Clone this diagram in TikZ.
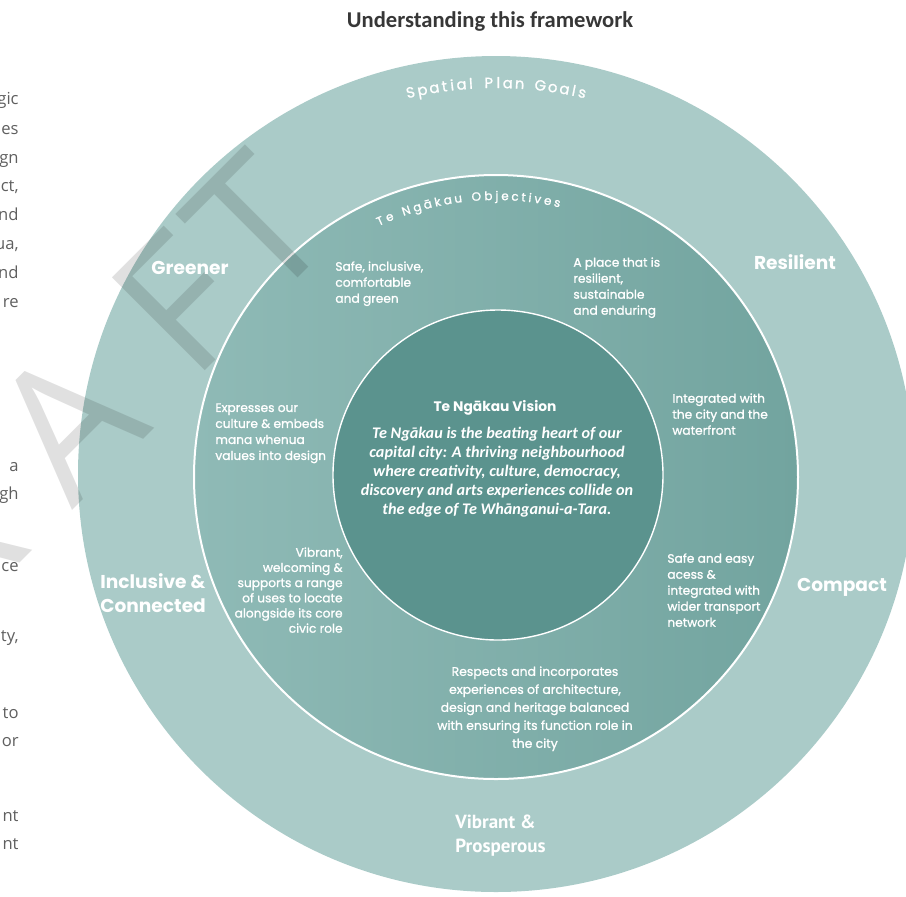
\documentclass[tikz,border=0pt]{standalone}
\usepackage{fontspec}
\setmainfont{Carlito}
\newfontfamily\goth{Poppins}
\newfontfamily\gothfb[FakeBold=1.2]{Poppins}
\newfontfamily\ptsans{PT Sans}
\newfontfamily\osans{Open Sans}
\definecolor{outerc}{RGB}{170,203,200}
\definecolor{midL}{RGB}{143,186,182}
\definecolor{midR}{RGB}{114,164,159}
\definecolor{innerc}{RGB}{91,147,142}
\definecolor{titlec}{RGB}{55,55,55}
\definecolor{fragc}{RGB}{95,95,95}
\tikzset{
  frag/.style={anchor=mid east, inner sep=0, text=fragc, font=\osans\fontsize{8.3}{10}\selectfont},
  goal/.style={text=white, inner sep=0, font=\goth\bfseries\fontsize{9.3}{12}\selectfont},
  goalb/.style={text=white, inner sep=0, align=left, font=\ptsans\bfseries\fontsize{9.5}{12}\selectfont},
  obj/.style={text=white, inner sep=0, align=left, font=\gothfb\fontsize{6.1}{8}\selectfont},
  arcl/.style={text=white, inner sep=0, anchor=base, font=\gothfb\fontsize{7.4}{8}\selectfont},
  arcs/.style={text=white, inner sep=0, anchor=base, font=\gothfb\fontsize{6}{7}\selectfont},
  wm/.style={text=black, text opacity=0.12, inner sep=0, anchor=base, rotate=45, font=\osans\fontsize{92}{92}\selectfont}
}
\begin{document}
\begin{tikzpicture}[x=0.5pt,y=-0.5pt]
\useasboundingbox (0,0) rectangle (906,896);
\coordinate (O) at (496,474);
\coordinate (M) at (496,477);
\coordinate (I) at (498,475);
% rings
\fill[outerc] (O) circle (418);
\shade[left color=midL,right color=midR] (M) circle (302);
\draw[white,line width=1pt] (M) circle (302);
\fill[innerc] (I) circle (165);
\draw[white,line width=0.7pt] (I) circle (165);
% watermark
\node[wm] (wmR) at (-5,588) {R};
\node[wm] (wmA) at (113.5,469) {A};
\node[wm] (wmF) at (226,350) {F};
\node[wm] (wmT) at (303,273) {T};
% title
\node[text=titlec, inner sep=0, font=\bfseries\fontsize{11.3}{13}\selectfont] (title) at (490,21) {Understanding this framework};
% left fragments
\foreach \t/\yy [count=\i] in {gic/100, es/130, gn/159, {ct,}/187, nd/216, {ua,}/245, nd/274, re/303, a/467, gh/495, ce/567, {ty,}/637, to/714, or/742, nt/817, nt/845}
  \node[frag] (frag\i) at (19,\yy) {\t};
% curved ring titles
\foreach \c/\a [count=\i] in {S/102.63, p/100.86, a/99.08, t/97.58, i/96.44, a/95.06, l/93.68, P/91.06, l/89.65, a/88.27, n/86.52, G/83.48, o/81.64, a/79.89, l/78.51, s/77.25}{
  \pgfmathsetmacro\rr{\a-90}
  \node[arcl, rotate=\rr] (sp\i) at ([shift={(-\a:386)}]O) {\c};
}
\foreach \c/\a [count=\i] in {T/114.36, e/112.26, N/108.64, g/106.29, ā/104.07, k/101.98, a/99.89, u/97.74, O/94.01, b/91.55, j/89.82, e/88.16, c/86.10, t/84.37, i/83.04, v/81.45, e/79.38, s/77.39}{
  \pgfmathsetmacro\rr{\a-90}
  \node[arcs, rotate=\rr] (ob\i) at ([shift={(-\a:277)}]M) {\c};
}
% goals
\node[goal] (greener) at (190,268) {Greener};
\node[goal] (resilient) at (795,262) {Resilient};
\node[goal, align=left, anchor=north west] (inclusive) at (100,573) {Inclusive \&\\Connected};
\node[goal] (compact) at (842,587) {Compact};
\node[goalb, anchor=north west] (vibrantg) at (455,815) {Vibrant \&\\Prosperous};
% objectives
\node[obj, anchor=north west] (o1) at (335,261) {Safe, inclusive,\\comfortable\\and green};
\node[obj, anchor=north west] (o2) at (573,257) {A place that is\\resilient,\\sustainable\\and enduring};
\node[obj, anchor=north west] (o3) at (215,403) {Expresses our\\culture \& embeds\\mana whenua\\values into design};
\node[obj, anchor=north east, align=right, font=\gothfb\fontsize{6.1}{7.6}\selectfont] (o4) at (343,547) {Vibrant,\\welcoming \&\\supports a range\\of uses to locate\\alongside its core\\civic role};
\node[obj, anchor=north west] (o5) at (672,393) {Integrated with\\the city and the\\waterfront};
\node[obj, anchor=north west] (o6) at (667,553) {Safe and easy\\acess \&\\integrated with\\wider transport\\network};
\node[obj, anchor=north, align=center, font=\gothfb\fontsize{6.2}{9}\selectfont] (o7) at (535,666) {Respects and incorporates\\experiences of architecture,\\design and heritage balanced\\with ensuring its function role in\\the city};
% vision
\node[text=white, inner sep=0, font=\goth\bfseries\fontsize{6.9}{8}\selectfont] (visiont) at (495,408) {Te Ngākau Vision};
\node[text=white, inner sep=0, anchor=north, align=center, font=\bfseries\itshape\fontsize{8.1}{9.5}\selectfont] (visionb) at (497,427) {Te Ngākau is the beating heart of our\\capital city: A thriving neighbourhood\\where creativity, culture, democracy,\\discovery and arts experiences collide on\\the edge of Te Whānganui-a-Tara.};
\end{tikzpicture}
\end{document}
